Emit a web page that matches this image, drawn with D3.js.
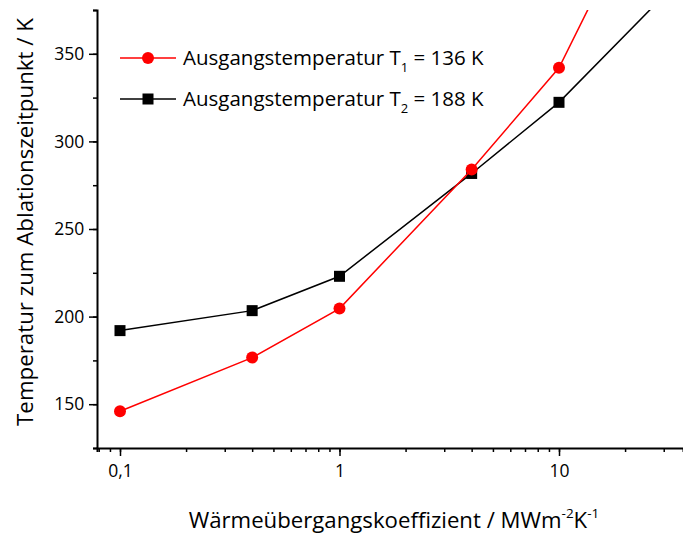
<!DOCTYPE html>
<html><head><meta charset="utf-8">
<script src="https://cdn.jsdelivr.net/npm/d3@7"></script>
<style>body{margin:0;background:#fff}svg{display:block}text{font-family:"Open Sans",sans-serif}</style>
</head><body>
<svg id="c" width="683" height="536"></svg>
<script>
const xValues = [0.1, 0.4, 1, 4, 10, 40];
const seriesT1 = [146, 176.6, 204.6, 284, 342, 494];
const seriesT2 = [192, 203.4, 223, 281.7, 322.3, 399];
const seriesNames = ["Ausgangstemperatur T", "Ausgangstemperatur T"];
const seriesSubs = ["1", "2"];
const seriesTails = [" = 136 K", " = 188 K"];
const yTicks = [150, 200, 250, 300, 350];
const xTickLabels = {0.1: "0,1", 1: "1", 10: "10"};

const svg = d3.select("#c");
const L = 97, R = 683, T = 10, B = 448;
const x = d3.scaleLog().domain([Math.pow(10, -1 - 23/219.5), Math.pow(10, 1 + 124/219.5)]).range([L, R]);
const y = d3.scaleLinear().domain([125, 375]).range([B, T]);

svg.append("defs").append("clipPath").attr("id", "clip")
  .append("rect").attr("x", L).attr("y", T).attr("width", R - L).attr("height", B - T);

const minorX = [];
for (let d = 0.01; d < 100; d *= 10) for (let k = 1; k < 10; k++) { const v = d * k; if (v >= x.domain()[0] && v <= x.domain()[1]) minorX.push(v); }
const gx = svg.append("g").attr("transform", `translate(0,${B})`);
gx.call(d3.axisBottom(x).tickValues(minorX).tickSize(4).tickFormat(""));
gx.append("g").call(d3.axisBottom(x).tickValues([0.1, 1, 10]).tickSize(8).tickFormat(d => xTickLabels[d]));
const gy = svg.append("g").attr("transform", `translate(${L},0)`);
gy.call(d3.axisLeft(y).tickValues(d3.range(125, 376, 25)).tickSize(4).tickFormat(""));
gy.append("g").call(d3.axisLeft(y).tickValues(yTicks).tickSize(8).tickFormat(d3.format("d")));
svg.selectAll(".domain").attr("stroke", "#000").attr("stroke-width", 2);
svg.selectAll(".tick line").attr("stroke", "#000").attr("stroke-width", 1.5);
gx.selectAll("text").attr("font-size", 17.5).attr("dy", "1.05em").attr("fill", "#000");
gy.selectAll("text").attr("font-size", 17.5).attr("dx", "-0.1em").attr("fill", "#000");
gx.selectAll("g .domain").filter((d,i,n)=>n[i].parentNode !== gx.node()).remove();
gy.selectAll("g .domain").filter((d,i,n)=>n[i].parentNode !== gy.node()).remove();

const plot = svg.append("g").attr("clip-path", "url(#clip)");
const line = d3.line().x((d, i) => x(xValues[i])).y(d => y(d));
plot.append("path").datum(seriesT2).attr("d", line).attr("fill", "none").attr("stroke", "#000").attr("stroke-width", 1.5);
plot.selectAll(".sq").data(seriesT2).enter().append("rect")
  .attr("x", (d, i) => x(xValues[i]) - 5.5).attr("y", d => y(d) - 5.5).attr("width", 11).attr("height", 11).attr("fill", "#000");
plot.append("path").datum(seriesT1).attr("d", line).attr("fill", "none").attr("stroke", "#ff0000").attr("stroke-width", 1.5);
plot.selectAll(".ci").data(seriesT1).enter().append("circle")
  .attr("cx", (d, i) => x(xValues[i])).attr("cy", d => y(d)).attr("r", 6).attr("fill", "#ff0000");

const colors = ["#ff0000", "#000"];
[58, 99].forEach((ly, i) => {
  const g = svg.append("g");
  g.append("line").attr("x1", 120).attr("x2", 176).attr("y1", ly).attr("y2", ly).attr("stroke", colors[i]).attr("stroke-width", 1.5);
  if (i === 0) g.append("circle").attr("cx", 148).attr("cy", ly).attr("r", 6).attr("fill", colors[i]);
  else g.append("rect").attr("x", 142.5).attr("y", ly - 5.5).attr("width", 11).attr("height", 11).attr("fill", colors[i]);
  const t = g.append("text").attr("x", 183).attr("y", ly + 7).attr("font-size", 20.5).attr("fill", "#000");
  t.append("tspan").text(seriesNames[i]);
  t.append("tspan").attr("font-size", 13).attr("dy", 7).text(seriesSubs[i]);
  t.append("tspan").attr("dy", -7).text(seriesTails[i]);
});

svg.append("text").attr("transform", `translate(33,222) rotate(-90)`).attr("text-anchor", "middle")
  .attr("font-size", 22.3).attr("fill", "#000").text("Temperatur zum Ablationszeitpunkt / K");
const xt = svg.append("text").attr("x", 394).attr("y", 528).attr("text-anchor", "middle").attr("font-size", 22.2).attr("fill", "#000");
xt.append("tspan").text("Wärmeübergangskoeffizient / MWm");
xt.append("tspan").attr("font-size", 13.5).attr("dy", -10).text("-2");
xt.append("tspan").attr("dy", 10).text("K");
xt.append("tspan").attr("font-size", 13.5).attr("dy", -10).text("-1");
</script>
</body></html>
